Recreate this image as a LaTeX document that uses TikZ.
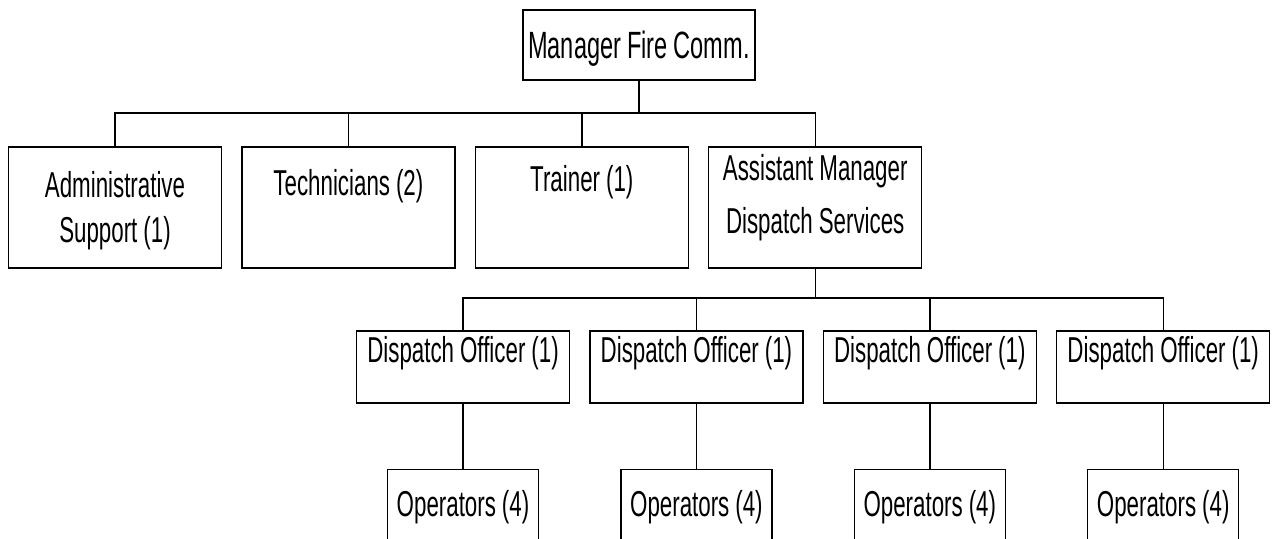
\documentclass[tikz,border=0pt]{standalone}
\usepackage{fontspec}
\setmainfont[FakeStretch=0.62]{Liberation Sans}
\usetikzlibrary{positioning}
\newcommand\blkfont[1]{\fontsize{#1}{22.5}\selectfont\fontdimen2\font=3pt\relax}
\tikzset{
  blk/.style={draw, line width=0.7pt, inner sep=0pt, align=flush center,
              font=\blkfont{18}},
  unit/.style 2 args={blk, text width=106.5pt, text height=#1, text depth=#2},
  desk/.style={blk, text width=106.5pt, text height=15.5pt, text depth=20.5pt},
  crew/.style={blk, text width=75.5pt, text height=23.5pt, text depth=13.5pt},
  wire/.style={line width=0.7pt},
}

\begin{document}
\begin{tikzpicture}[x=0.5pt, y=-0.5pt]
    \useasboundingbox (0,0) rectangle (1273,538);
    \clip (0,0) rectangle (1273,538);
    % head
    \node[blk, minimum width=116pt, text height=24pt, text depth=11pt,
          font=\blkfont{19}] (mgr) at (639,45) {Manager Fire Comm.};
    % second row
    \node[unit={25pt}{35.5pt}] (admin) at (115,207.5) {Administrative\\Support (1)};
    \node[unit={24pt}{36.5pt}, right=9.5pt of admin] (tech) {Technicians (2)};
    \node[unit={22pt}{38.5pt}, right=9.5pt of tech] (trainer) {Trainer (1)};
    \node[unit={16.5pt}{44pt}, right=9.5pt of trainer] (asst) {Assistant Manager\\[4pt]Dispatch Services};
    \coordinate (bus1) at (mgr.south |- 0,113);
    \draw[wire] (mgr.south) -- (bus1);
    \foreach \u in {admin,tech,trainer,asst}
      \draw[wire] (\u.north) |- (bus1);
    % dispatch officers
    \node[desk] (disp1) at (463,367) {Dispatch Officer (1)};
    \node[desk, right=9.5pt of disp1] (disp2) {Dispatch Officer (1)};
    \node[desk, right=9.5pt of disp2] (disp3) {Dispatch Officer (1)};
    \node[desk, right=9.5pt of disp3] (disp4) {Dispatch Officer (1)};
    \coordinate (bus2) at (asst.south |- 0,298);
    \draw[wire] (asst.south) -- (bus2);
    \foreach \d in {disp1,disp2,disp3,disp4}
      \draw[wire] (\d.north) |- (bus2);
    % operators
    \foreach \i in {1,...,4} {
      \node[crew, below=32.5pt of disp\i] (ops\i) {Operators (4)};
      \draw[wire] (disp\i) -- (ops\i);
    }
\end{tikzpicture}
\end{document}
